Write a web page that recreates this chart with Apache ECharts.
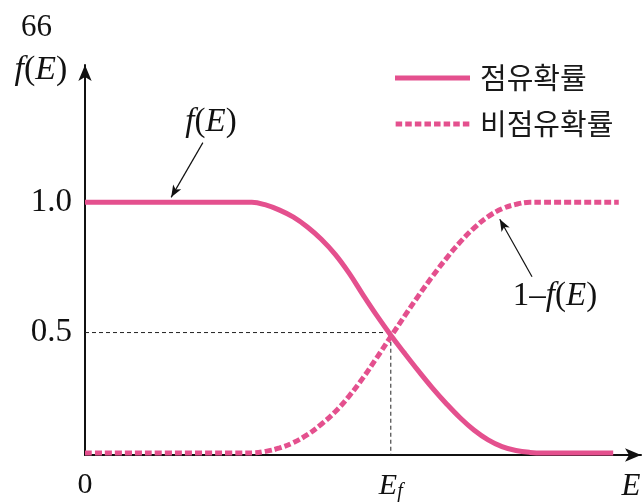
<!DOCTYPE html>
<html>
<head>
<meta charset="utf-8">
<script src="https://cdn.jsdelivr.net/npm/echarts@6/dist/echarts.min.js"></script>
<style>
  html, body { margin: 0; padding: 0; background: #fff; }
  #main { width: 643px; height: 502px; }
</style>
</head>
<body>
<div id="main"></div>
<script>
// 에너지 축 (임의 단위), Ef 위치
var EF = 55;
var energyOcc = [0, 30, 32.5, 35, 37.5, 40, 42.5, 45, 47.5, 50, 52.5, 55, 57.5, 60, 62.5, 65, 67.5, 70, 72.5, 75, 77.5, 80, 82.5, 95];
var occupied  = [1, 1, 0.990, 0.970, 0.943, 0.905, 0.858, 0.800, 0.728, 0.645, 0.565, 0.490, 0.420, 0.352, 0.287, 0.227, 0.172, 0.125, 0.088, 0.062, 0.047, 0.040, 0.038, 0.038];
var energyEmp = [0, 30, 32.5, 35, 37.5, 40, 42.5, 45, 47.5, 50, 52.5, 55, 57.5, 60, 62.5, 65, 67.5, 70, 72.5, 75, 77.5, 80, 82.5, 96];
var empty     = [0.038, 0.038, 0.044, 0.057, 0.078, 0.108, 0.148, 0.196, 0.256, 0.326, 0.404, 0.484, 0.564, 0.642, 0.716, 0.785, 0.848, 0.902, 0.945, 0.975, 0.992, 1, 1, 1];
var yTicks = [0.5, 1.0];
var names = ['점유확률', '비점유확률'];

var pink = '#E4508E';
var serif = 'Liberation Serif';

function pairs(xs, ys) {
    return xs.map(function (x, i) { return [x, ys[i]]; });
}

// 범례 아이콘 (실선 / 점선)
var solidIcon = 'path://M0,0H75V5H0Z';
var dashIcon = 'path://';
for (var k = 0; k < 8; k++) {
    dashIcon += 'M' + (k * 9.6) + ',0h6.5v5h-6.5Z';
}

var chart = echarts.init(document.getElementById('main'), null, { renderer: 'canvas' });

var option = {
    animation: false,
    grid: { left: 85, right: 2, top: 65, bottom: 45 },
    legend: {
        orient: 'vertical',
        left: 390,
        top: 57,
        itemWidth: 75,
        itemHeight: 5,
        itemGap: 14,
        data: [
            { name: names[0], icon: solidIcon },
            { name: names[1], icon: dashIcon }
        ],
        itemStyle: { color: pink },
        textStyle: {
            fontFamily: 'Noto Sans CJK KR',
            fontSize: 29,
            color: '#1a1a1a',
            lineHeight: 32,
            padding: [0, 0, 0, 5]
        }
    },
    xAxis: {
        type: 'value',
        min: 0,
        max: 100,
        splitLine: { show: false },
        axisTick: { show: false },
        axisLine: {
            onZero: false,
            symbol: ['none', 'arrow'],
            symbolSize: [10, 16],
            lineStyle: { color: '#111', width: 2 }
        },
        axisLabel: {
            customValues: [0, EF],
            margin: 15,
            color: '#111',
            fontFamily: serif,
            fontSize: 30,
            formatter: function (v) {
                return v === 0 ? '0' : '{i|E}{s|f}';
            },
            rich: {
                i: { fontFamily: serif, fontStyle: 'italic', fontSize: 30, color: '#111' },
                s: { fontFamily: serif, fontStyle: 'italic', fontSize: 20, color: '#111', padding: [12, 0, 0, 0] }
            }
        }
    },
    yAxis: {
        type: 'value',
        min: 0.03,
        max: 1.527,
        splitLine: { show: false },
        axisTick: { show: false },
        axisLine: {
            onZero: false,
            symbol: ['none', 'arrow'],
            symbolSize: [10, 16],
            lineStyle: { color: '#111', width: 2 }
        },
        axisLabel: {
            customValues: yTicks,
            margin: 13,
            color: '#111',
            fontFamily: serif,
            fontSize: 33,
            formatter: function (v) { return v.toFixed(1); }
        }
    },
    series: [
        {
            name: names[1],
            type: 'line',
            data: pairs(energyEmp, empty),
            showSymbol: false,
            symbol: 'none',
            smooth: 0.4,
            itemStyle: { color: pink },
            lineStyle: { color: pink, width: 5, type: [7, 3], cap: 'butt' },
            z: 3
        },
        {
            name: names[0],
            type: 'line',
            data: pairs(energyOcc, occupied),
            showSymbol: false,
            symbol: 'none',
            smooth: 0.4,
            itemStyle: { color: pink },
            lineStyle: { color: pink, width: 5 },
            z: 4,
            markLine: {
                silent: true,
                symbol: ['none', 'arrow'],
                symbolSize: [7, 12],
                label: { show: false },
                lineStyle: { color: '#111', width: 1.2, type: 'solid' },
                data: [
                    [{ coord: [21.2, 1.229] }, { coord: [15.5, 1.019] }],
                    [{ coord: [80.4, 0.714] }, { coord: [74.6, 0.935] }]
                ]
            }
        },
        {
            name: 'guide',
            type: 'line',
            data: [[0, 0.5], [EF, 0.5], [EF, 0.03]],
            showSymbol: false,
            symbol: 'none',
            lineStyle: { color: '#222', width: 1, type: [4, 3] },
            z: 2
        }
    ],
    graphic: [
        {
            type: 'text', left: 21, top: 12,
            style: { text: '66', fontFamily: serif, fontSize: 31, fill: '#111' }
        },
        {
            type: 'text', x: 41, y: 70,
            style: {
                text: '{i|f}{r|(}{i|E}{r|)}', align: 'center', verticalAlign: 'middle',
                rich: {
                    i: { fontFamily: serif, fontStyle: 'italic', fontSize: 34, fill: '#111' },
                    r: { fontFamily: serif, fontSize: 34, fill: '#111' }
                }
            }
        },
        {
            type: 'text', x: 211, y: 122,
            style: {
                text: '{i|f}{r|(}{i|E}{r|)}', align: 'center', verticalAlign: 'middle',
                rich: {
                    i: { fontFamily: serif, fontStyle: 'italic', fontSize: 33, fill: '#111' },
                    r: { fontFamily: serif, fontSize: 33, fill: '#111' }
                }
            }
        },
        {
            type: 'text', x: 555, y: 296,
            style: {
                text: '{r|1–}{i|f}{r|(}{i|E}{r|)}', align: 'center', verticalAlign: 'middle',
                rich: {
                    i: { fontFamily: serif, fontStyle: 'italic', fontSize: 33, fill: '#111' },
                    r: { fontFamily: serif, fontSize: 33, fill: '#111' }
                }
            }
        },
        {
            type: 'text', x: 631, y: 487,
            style: {
                text: 'E', align: 'center', verticalAlign: 'middle',
                fontFamily: serif, fontStyle: 'italic', fontSize: 31, fill: '#111'
            }
        }
    ]
};

chart.setOption(option);
</script>
</body>
</html>
